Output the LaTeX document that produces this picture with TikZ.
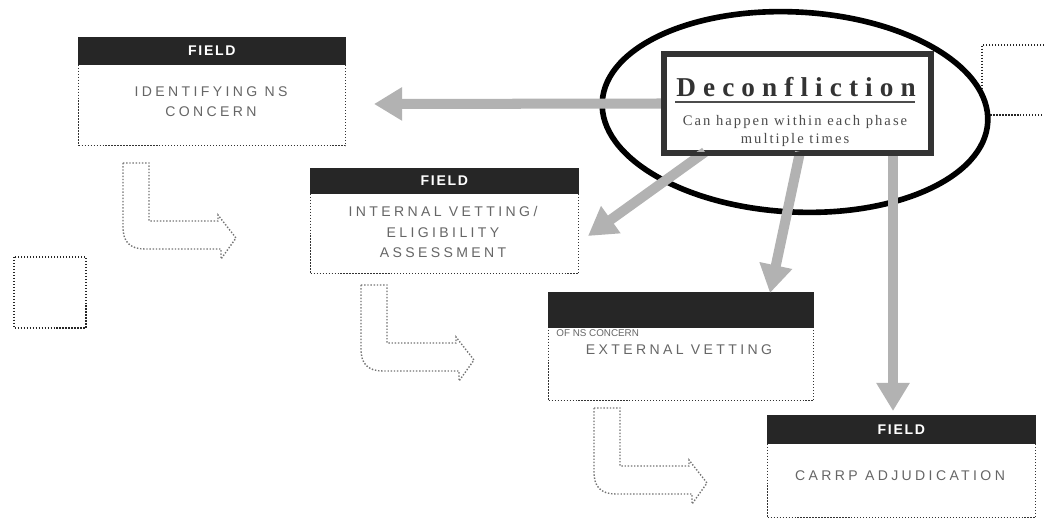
\documentclass[tikz,border=0pt]{standalone}
\usepackage{fontspec}
\setmainfont{Liberation Serif}
\newfontfamily\boxfont[LetterSpace=24]{Liberation Sans}
\newfontfamily\plainsans{Liberation Sans}
\newfontfamily\hdrfont[LetterSpace=12]{Liberation Sans}
\newfontfamily\decfont[LetterSpace=26]{Liberation Serif}
\newfontfamily\noteserif[LetterSpace=14]{Liberation Serif}
\usetikzlibrary{arrows.meta}

\begin{document}
\begin{tikzpicture}[x=0.02cm,y=-0.02cm,
  stagebody/.style={draw=black!80, densely dotted, line width=0.7pt, fill=white,
    inner sep=0pt, anchor=north west},
  stagehead/.style={fill=black!85, draw=black!85, inner sep=0pt, anchor=north west,
    text=white, font=\hdrfont\bfseries\fontsize{8}{9}\selectfont},
  stagetext/.style={align=center, text=black!60, inner sep=0pt,
    font=\boxfont\fontsize{8}{11.4}\selectfont},
  feedarrow/.style={draw=black!30, line width=5.7pt,
    -{Triangle[width=18pt,length=16pt]}},
  bendarrow/.style={draw=black!55, densely dotted, line width=0.8pt},
  spare/.style={draw=black!85, densely dotted, line width=0.7pt},
]
\useasboundingbox (0,0) rectangle (1044,523);

% loose placeholder boxes
\draw[spare] (14,257) rectangle (86,328);
\draw[spare] (1044,45) -- (982,45) -- (982,115) -- (1044,115);

% stage 1
\node[stagebody, minimum width={267*0.02cm}, minimum height={108*0.02cm}] (b1) at (78,37) {};
\node[stagehead, minimum width={267*0.02cm}, minimum height={27*0.02cm}] (h1) at (78,37) {FIELD};
\node[stagetext] (t1) at (211,102) {IDENTIFYING NS\\CONCERN};

% stage 2
\node[stagebody, minimum width={268*0.02cm}, minimum height={105*0.02cm}] (b2) at (310,168) {};
\node[stagehead, minimum width={268*0.02cm}, minimum height={25*0.02cm}] (h2) at (310,168) {FIELD};
\node[stagetext] (t2) at (443,232) {INTERNAL VETTING/\\ELIGIBILITY\\ASSESSMENT};

% stage 3
\node[stagebody, minimum width={265*0.02cm}, minimum height={108*0.02cm}] (b3) at (548,292) {};
\node[stagehead, minimum width={265*0.02cm}, minimum height={35*0.02cm}] (h3) at (548,292) {};
\node[anchor=west, inner sep=0pt, text=black!60,
  font=\plainsans\fontsize{5.6}{6}\selectfont] (n3) at (556,333) {OF NS CONCERN};
\node[stagetext] (t3) at (679,350) {EXTERNAL VETTING};

% stage 4
\node[stagebody, minimum width={268*0.02cm}, minimum height={102*0.02cm}] (b4) at (767,415) {};
\node[stagehead, minimum width={268*0.02cm}, minimum height={28*0.02cm}] (h4) at (767,415) {FIELD};
\node[stagetext] (t4) at (900,476) {CARRP ADJUDICATION};

% bent step arrows between stages
\foreach \ox/\oy in {123/163, 361/285, 594/408}{
  \draw[bendarrow, shift={(\ox,\oy)}]
    (0,0) -- (26,0) -- (26,58) -- (95,58) -- (95,52) -- (113,75)
    -- (98,96) -- (98,86) -- (22,86) .. controls (6,86) and (0,78) .. (0,64) -- cycle;
}

% highlight ring
\draw[fill=white, line width=3.2pt, rotate around={-3:(795,112)}]
  (795,112) ellipse [x radius=193, y radius=100];

% deconfliction panel
\node[draw=black!80, line width=2.2pt, fill=white, inner sep=0pt,
  minimum width={265*0.02cm}, minimum height={97*0.02cm}] (dec) at (797.5,103.5) {};
\node[inner sep=0pt, text=black!80, font=\decfont\bfseries\fontsize{15.5}{16}\selectfont]
  (dect) at (796,87) {Deconfliction};
\draw[black!70, line width=1.2pt] (675,102) -- (915,102);
\node[inner sep=0pt, align=center, text=black!70,
  font=\noteserif\fontsize{8.3}{10.5}\selectfont] (decn) at (795,131)
  {Can happen within each phase\\multiple times};

% feeds from the panel
\coordinate (tipA) at (374,104);
\coordinate (srcB) at (705,152);
\coordinate (tipB) at (588,236);
\coordinate (srcC) at (800,152);
\coordinate (tipC) at (770,293);
\coordinate (srcD) at (893,152);
\coordinate (tipD) at (893,411);
\draw[feedarrow] (dec.west) -- (tipA);
\draw[feedarrow] (srcB) -- (tipB);
\draw[feedarrow] (srcC) -- (tipC);
\draw[feedarrow] (srcD) -- (tipD);

% redraw panel frame over feed starts
\draw[black!80, line width=2.2pt] (dec.south west) rectangle (dec.north east);
\end{tikzpicture}
\end{document}
